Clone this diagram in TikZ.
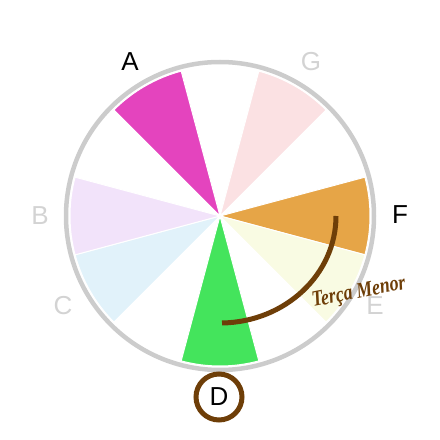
\documentclass[tikz,border=0pt]{standalone}
\usepackage{fontspec}
\setmainfont{Liberation Sans}
\newfontfamily\labelserif{Liberation Serif}
\definecolor{cA}{HTML}{E444BE}
\definecolor{cG}{HTML}{FBE1E3}
\definecolor{cF}{HTML}{E6A547}
\definecolor{cE}{HTML}{F9FBE3}
\definecolor{cD}{HTML}{44E45C}
\definecolor{cC}{HTML}{E1F2FA}
\definecolor{cB}{HTML}{F2E3FA}
\definecolor{ringgray}{HTML}{CCCCCC}
\definecolor{lettergray}{HTML}{D3D3D3}
\definecolor{brownline}{HTML}{6E3E08}
\begin{document}
\begin{tikzpicture}[x=1pt,y=1pt,
  note/.style={font=\fontsize{26}{26}\selectfont, inner sep=0pt},
  activenote/.style={note, text=black},
  mutednote/.style={note, text=lettergray}]
\useasboundingbox (0,0) rectangle (440,440);
\coordinate (ctr) at (220,224);
% wedges
\foreach \ang/\col in {120/cA,60/cG,0/cF,-30/cE,-90/cD,-150/cC,180/cB}{
  \filldraw[fill=\col, draw=white, line width=1pt]
    (ctr) -- ++(\ang-15:150) arc[start angle=\ang-15, end angle=\ang+15, radius=150] -- cycle;
}
% outer ring
\draw[ringgray, line width=4.5pt] (ctr) circle[radius=154];
% labels
\node[activenote] (nA) at (130,378) {A};
\node[mutednote] (nG) at (311,378) {G};
\node[activenote] (nF) at (400,225) {F};
\node[mutednote] (nE) at (375,134) {E};
\node[activenote] (nD) at (219,43) {D};
\node[mutednote] (nC) at (63,134) {C};
\node[mutednote] (nB) at (40,224) {B};
\draw[brownline, line width=5pt] (nD) circle[radius=23];
% minor third arc
\coordinate (arcstart) at (336,224);
\draw[brownline, line width=5pt] (arcstart) arc[start angle=0, end angle=-89, x radius=116, y radius=107];
\node[text=brownline, rotate=11, inner sep=0pt, font=\labelserif\itshape\bfseries\fontsize{22}{22}\selectfont, xscale=0.81] (terca) at (359,147) {Terça Menor};
\end{tikzpicture}
\end{document}
